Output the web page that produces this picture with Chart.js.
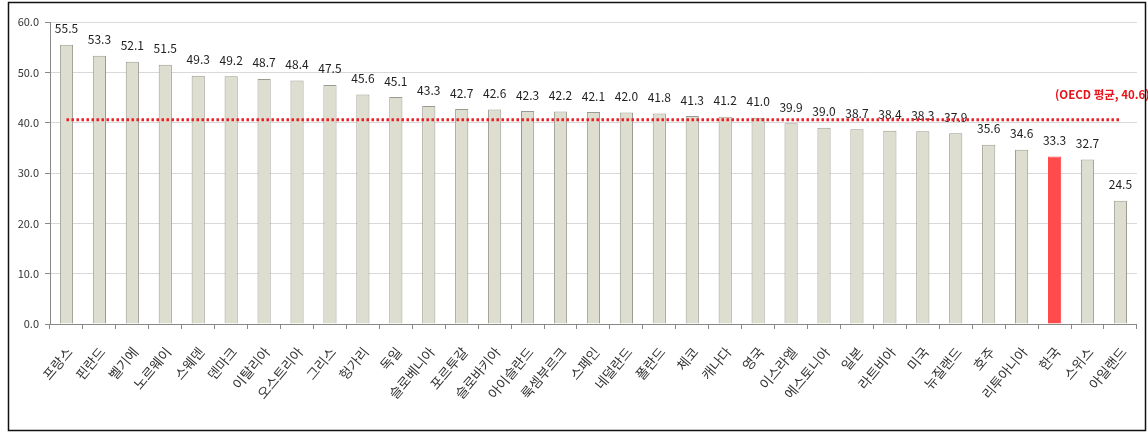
<!DOCTYPE html>
<html>
<head>
<meta charset="utf-8">
<script src="https://cdn.jsdelivr.net/npm/chart.js@4"></script>
<style>
  html,body{margin:0;padding:0;background:#fff;}
  #wrap{position:relative;width:1148px;height:432px;}
</style>
</head>
<body>
<div id="wrap"><canvas id="c" width="1148" height="432"></canvas></div>
<script>
const countries = ["프랑스","핀란드","벨기에","노르웨이","스웨덴","덴마크","이탈리아","오스트리아","그리스","헝가리","독일","슬로베니아","포르투갈","슬로바키아","아이슬란드","룩셈부르크","스페인","네덜란드","폴란드","체코","캐나다","영국","이스라엘","에스토니아","일본","라트비아","미국","뉴질랜드","호주","리투아니아","한국","스위스","아일랜드"];
const values = [55.5,53.3,52.1,51.5,49.3,49.2,48.7,48.4,47.5,45.6,45.1,43.3,42.7,42.6,42.3,42.2,42.1,42.0,41.8,41.3,41.2,41.0,39.9,39.0,38.7,38.4,38.3,37.9,35.6,34.6,33.3,32.7,24.5];
const highlight = "한국";
const oecdAvg = 40.6;
const oecdLabel = "(OECD 평균, 40.6)";
const yTicks = [0,10,20,30,40,50,60];

const FONT = "'Noto Sans CJK KR','Noto Sans',sans-serif";

const barColors = countries.map(c => c === highlight ? '#ff4b4b' : '#deded0');
const barBorders = countries.map(c => c === highlight ? '#ff4b4b' : '#9a9a8e');

const overlay = {
  id: 'overlay',
  afterDatasetsDraw(chart) {
    const ctx = chart.ctx;
    const meta = chart.getDatasetMeta(0);
    const ys = chart.scales.y;
    // data labels
    ctx.save();
    ctx.font = "12px " + FONT;
    ctx.fillStyle = '#222';
    ctx.textAlign = 'center';
    ctx.textBaseline = 'bottom';
    meta.data.forEach((bar, i) => {
      ctx.fillText(values[i].toFixed(1), bar.x, bar.y - 10);
    });
    ctx.restore();
    // average line
    const y = ys.getPixelForValue(oecdAvg);
    const x0 = meta.data[0].x, x1 = meta.data[meta.data.length-1].x;
    ctx.save();
    ctx.strokeStyle = '#ee1c24';
    ctx.lineWidth = 3;
    ctx.setLineDash([2.5, 2.5]);
    ctx.beginPath();
    ctx.moveTo(x0, y);
    ctx.lineTo(x1, y);
    ctx.stroke();
    ctx.restore();
    // label
    ctx.save();
    ctx.font = "bold 11.5px " + FONT;
    ctx.fillStyle = '#e8141c';
    ctx.textAlign = 'left';
    ctx.textBaseline = 'middle';
    ctx.fillText(oecdLabel, 1055, ys.getPixelForValue(oecdAvg + 4.9));
    ctx.restore();
    // frame
    ctx.save();
    ctx.strokeStyle = '#111';
    ctx.lineWidth = 1.5;
    ctx.strokeRect(8.5, 2.5, 1137, 428);
    ctx.restore();
  }
};

new Chart(document.getElementById('c'), {
  type: 'bar',
  data: {
    labels: countries,
    datasets: [{
      data: values,
      backgroundColor: barColors,
      borderColor: barBorders,
      borderWidth: 1,
      barPercentage: 0.4,
      categoryPercentage: 1.0
    }]
  },
  options: {
    responsive: false,
    animation: false,
    devicePixelRatio: 1,
    layout: { padding: { left: 0, right: 10, top: 22, bottom: 0 } },
    plugins: { legend: { display: false }, tooltip: { enabled: false } },
    scales: {
      x: {
        afterFit(s) { s.height = 108; },
        grid: { display: true, drawOnChartArea: false, offset: true, color: '#888', tickLength: 5 },
        border: { color: '#888' },
        ticks: { minRotation: 50, maxRotation: 50, autoSkip: false, color: '#333', padding: 15, labelOffset: 3,
                 font: { family: FONT, size: 13.5 } }
      },
      y: {
        min: 0, max: 60,
        afterFit(s) { s.width = 50; },
        afterBuildTicks(s) { s.ticks = yTicks.map(v => ({ value: v })); },
        grid: { color: '#d9d9d9', tickColor: '#888', tickLength: 5 },
        border: { color: '#888' },
        ticks: { color: '#333', padding: 6, font: { family: FONT, size: 11 },
                 callback: v => Number(v).toFixed(1) }
      }
    }
  },
  plugins: [overlay]
});
</script>
</body>
</html>
